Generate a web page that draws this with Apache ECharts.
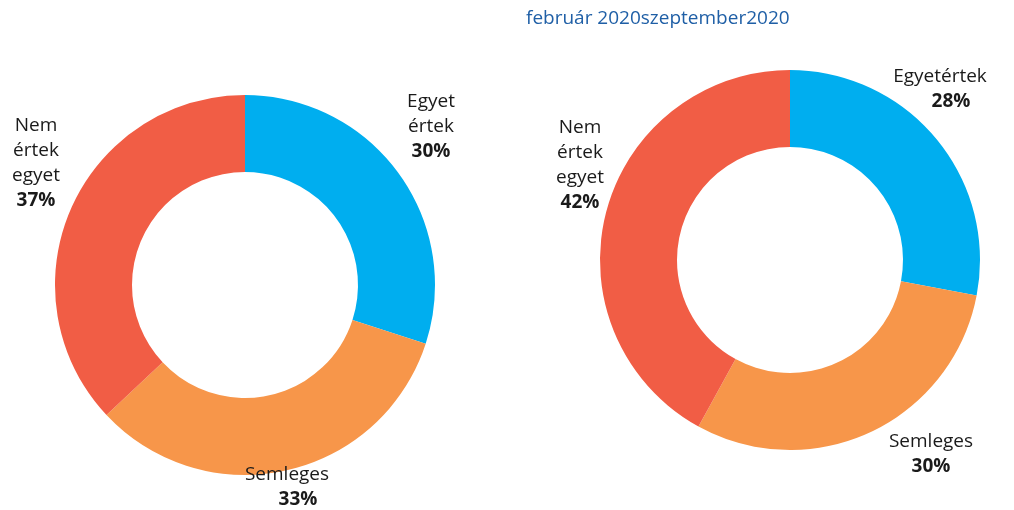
<!DOCTYPE html>
<html>
<head>
<meta charset="utf-8">
<script src="https://cdn.jsdelivr.net/npm/echarts@6/dist/echarts.min.js"></script>
<style>
  html, body { margin: 0; padding: 0; background: #fff; }
  #chart { width: 1014px; height: 510px; }
</style>
</head>
<body>
<div id="chart"></div>
<script>
const titleText = 'február 2020szeptember2020'
const categories = ['Egyet értek', 'Semleges', 'Nem értek egyet']
const labelNamesFeb = ['Egyet\nértek', 'Semleges', 'Nem\nértek\negyet']
const labelNamesSep = ['Egyetértek', 'Semleges', 'Nem\nértek\negyet']
const valuesFeb = [30, 33, 37]
const valuesSep = [28, 30, 42]

const COLORS = ['#00aeef', '#f7964a', '#f15d45']

// label anchor points (centre of each label block)
const labelPosFeb = [[431, 127], [287, 487], [36, 163]]
const labelPosSep = [[940, 89], [931, 454], [580, 165]]
// percent lines nudged right in the original
const pctShiftFeb = [false, true, false]
const pctShiftSep = [true, false, false]

const chart = echarts.init(document.getElementById('chart'))

const boldStyle = { fontFamily: 'Open Sans', fontSize: 19, fontWeight: 'bold', lineHeight: 25, color: '#1a1a1a', align: 'center' }

function makeSeries(values, names, center, labelPos, shift) {
  return {
    type: 'pie',
    center: center,
    radius: [113, 190],
    startAngle: 90,
    clockwise: true,
    silent: true,
    data: values.map((v, i) => ({
      value: v,
      name: categories[i],
      itemStyle: { color: COLORS[i] },
    })),
    label: {
      show: true,
      position: 'inside',
      overflow: 'none',
      formatter: (p) => names[p.dataIndex] + '\n{' + (shift[p.dataIndex] ? 's' : 'b') + '|' + p.value + '%}',
      fontFamily: 'Open Sans',
      fontSize: 19,
      lineHeight: 25,
      color: '#1a1a1a',
      align: 'center',
      rich: {
        b: boldStyle,
        s: Object.assign({}, boldStyle, { padding: [0, 0, 0, 22] }),
      },
    },
    labelLine: { show: false },
    labelLayout: (p) => ({
      x: labelPos[p.dataIndex][0],
      y: labelPos[p.dataIndex][1],
      align: 'center',
      verticalAlign: 'middle',
    }),
  }
}

chart.setOption({
  animation: false,
  title: {
    text: titleText,
    left: 521,
    top: 4,
    textStyle: { color: '#1f5fa6', fontSize: 19, fontWeight: 'normal', fontFamily: 'Open Sans' },
  },
  series: [
    makeSeries(valuesFeb, labelNamesFeb, [245, 285], labelPosFeb, pctShiftFeb),
    makeSeries(valuesSep, labelNamesSep, [790, 260], labelPosSep, pctShiftSep),
  ],
})
</script>
</body>
</html>
